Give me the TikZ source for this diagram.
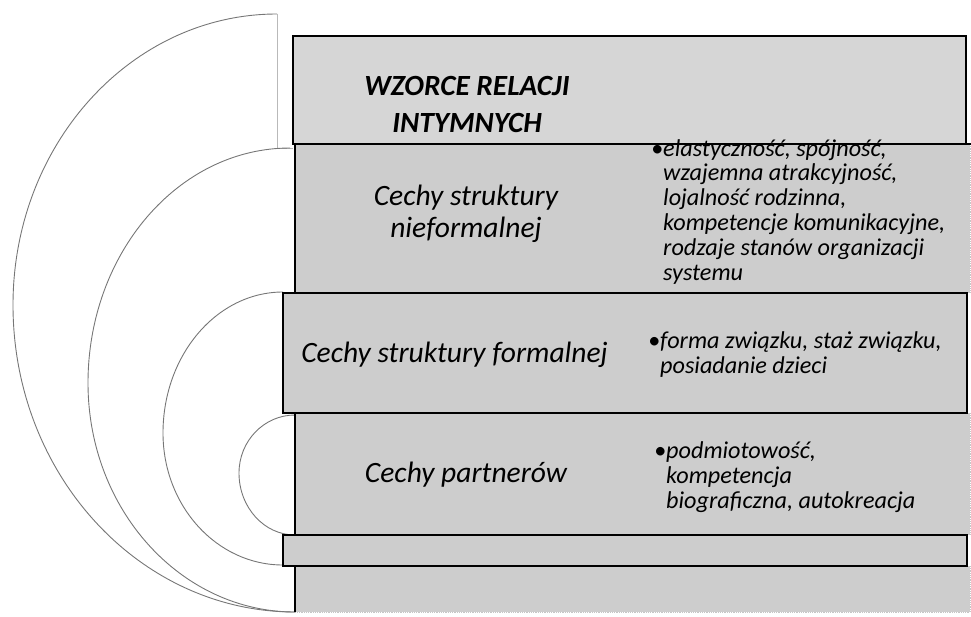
\documentclass[tikz,border=0pt]{standalone}
\usepackage{fontspec}
\setmainfont{Carlito}

\definecolor{boxgray}{RGB}{205,205,205}
\definecolor{titlegray}{RGB}{214,214,214}
\definecolor{arcgray}{RGB}{118,118,118}

\tikzset{
    titlelabel/.style={font=\fontsize{29.3}{37}\selectfont\bfseries\itshape, align=center, inner sep=0pt},
    boxlabel/.style={font=\fontsize{29.5}{32}\selectfont\itshape, align=center, inner sep=0pt},
    bulletlist/.style={font=\fontsize{24.2}{24.8}\selectfont\itshape, align=left, inner sep=0pt},
    blackedge/.style={line width=1.6pt, black},
    softedge/.style={line width=0.8pt, gray!45, densely dotted},
    arcline/.style={line width=0.9pt, arcgray}
}

\begin{document}
\begin{tikzpicture}[x=1pt,y=-1pt]
    \useasboundingbox (0,0) rectangle (971,616);

    % Arcs
    \draw[arcline] (277,14) arc[start angle=-90,end angle=-180,x radius=264,y radius=291]
        arc[start angle=-180,end angle=-270,x radius=282,y radius=307];
    \draw[gray!55, line width=0.8pt] (277,14) -- (277,148) -- (293,148);
    \draw[arcline] (290,148) arc[start angle=-90,end angle=-180,x radius=202,y radius=235]
        arc[start angle=-180,end angle=-270,x radius=207,y radius=229];
    \draw[arcline] (283,292) arc[start angle=-90,end angle=-180,x radius=120,y radius=141]
        arc[start angle=-180,end angle=-270,x radius=120,y radius=132];
    \draw[arcline] (295,415) arc[start angle=-90,end angle=-180,x radius=56,y radius=58]
        arc[start angle=-180,end angle=-270,x radius=56,y radius=62];

    % Open boxes
    \fill[boxgray] (295,144) rectangle (970,293);
    \fill[boxgray] (295,413) rectangle (970,535);
    \fill[boxgray] (295,566) rectangle (970,612);
    \draw[softedge] (970,144) -- (970,293);
    \draw[softedge] (970,413) -- (970,535);
    \draw[softedge] (970,566) -- (970,612) -- (295,612);
    \draw[blackedge] (295,293) -- (295,144) -- (971,144);
    \draw[blackedge] (295,535) -- (295,413);
    \draw[blackedge] (295,612) -- (295,566);

    % Closed boxes
    \draw[blackedge, fill=titlegray] (293,36) rectangle (966,144);
    \draw[blackedge, fill=boxgray] (283,293) rectangle (967,413);
    \draw[blackedge, fill=boxgray] (283,535) rectangle (967,566);

    % Title (base = last line)
    \node[titlelabel, anchor=base] (title) at (467,132) {WZORCE RELACJI\\INTYMNYCH};

    % Levels
    \node[boxlabel, anchor=base] (nieform) at (466,237) {Cechy struktury\\nieformalnej};
    \node[boxlabel, anchor=base] (formal) at (454.5,362) {Cechy struktury formalnej};
    \node[boxlabel, anchor=base] (partners) at (466,482) {Cechy partnerów};

    % Lists
    \node[bulletlist, anchor=base west] (nieformlist) at (663,280)
        {\llap{•}elastyczność, spójność,\\wzajemna atrakcyjność,\\lojalność rodzinna,\\kompetencje komunikacyjne,\\rodzaje stanów organizacji\\systemu};
    \node[bulletlist, anchor=base west] (formallist) at (660,373)
        {\llap{•}forma związku, staż związku,\\posiadanie dzieci};
    \node[bulletlist, anchor=base west] (partnerslist) at (666,508)
        {\llap{•}podmiotowość,\\kompetencja\\biograficzna, autokreacja};
\end{tikzpicture}
\end{document}
